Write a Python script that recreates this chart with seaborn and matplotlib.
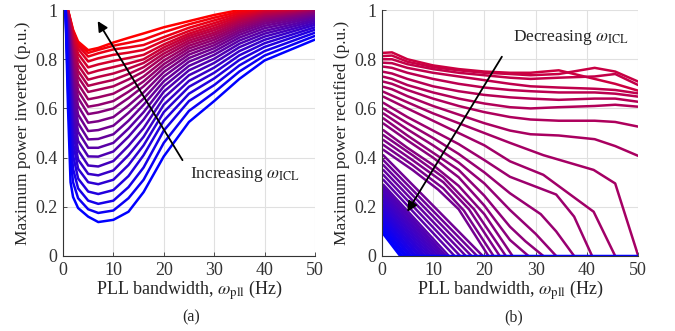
import numpy as np
import pandas as pd
import seaborn as sns
import matplotlib.pyplot as plt
from matplotlib.colors import to_hex

# ---- (a) maximum power inverted: one list per x position, curves bottom(blue) -> top(red)
inv_x = [0.5, 1, 1.5, 2, 3, 5, 7, 10, 13, 16, 20, 25, 30, 35, 40, 50]
p05 = [1.0, 1.0, 1.0, 1.0, 1.0, 1.0, 1.0, 1.0, 1.0, 1.0, 1.0, 1.0, 1.0, 1.0, 1.0, 1.0, 1.0, 1.0, 1.0, 1.0, 1.0, 1.0, 1.0, 1.0]
p1 = [0.60, 0.68, 0.74, 0.79, 0.83, 0.86, 0.885, 0.905, 0.92, 0.935, 0.947, 0.957, 0.965, 0.972, 0.978, 0.983, 0.987, 0.99, 0.993, 0.995, 0.997, 0.998, 0.999, 1.0]
p15 = [0.30, 0.40, 0.48, 0.55, 0.61, 0.66, 0.70, 0.74, 0.77, 0.80, 0.825, 0.847, 0.865, 0.882, 0.896, 0.908, 0.918, 0.927, 0.935, 0.942, 0.948, 0.953, 0.957, 0.96]
p2 = [0.24, 0.30, 0.355, 0.41, 0.46, 0.505, 0.55, 0.59, 0.63, 0.665, 0.70, 0.73, 0.758, 0.785, 0.808, 0.83, 0.848, 0.865, 0.88, 0.893, 0.903, 0.91, 0.915, 0.92]
p3 = [0.195, 0.235, 0.275, 0.315, 0.355, 0.392, 0.43, 0.468, 0.505, 0.54, 0.575, 0.61, 0.643, 0.672, 0.70, 0.728, 0.752, 0.776, 0.80, 0.822, 0.842, 0.855, 0.864, 0.872]
p5 = [0.16, 0.19, 0.225, 0.262, 0.30, 0.334, 0.368, 0.405, 0.44, 0.474, 0.508, 0.542, 0.577, 0.607, 0.637, 0.667, 0.692, 0.717, 0.742, 0.767, 0.791, 0.811, 0.826, 0.837]
p7 = [0.138, 0.175, 0.212, 0.252, 0.292, 0.328, 0.364, 0.404, 0.44, 0.476, 0.512, 0.548, 0.584, 0.614, 0.645, 0.676, 0.702, 0.728, 0.754, 0.779, 0.804, 0.824, 0.838, 0.846]
p10 = [0.147, 0.185, 0.225, 0.268, 0.31, 0.348, 0.386, 0.425, 0.46, 0.495, 0.53, 0.565, 0.60, 0.63, 0.66, 0.69, 0.716, 0.742, 0.768, 0.793, 0.818, 0.84, 0.855, 0.868]
p13 = [0.18, 0.235, 0.28, 0.325, 0.37, 0.41, 0.448, 0.485, 0.518, 0.55, 0.582, 0.612, 0.642, 0.668, 0.693, 0.718, 0.74, 0.762, 0.783, 0.805, 0.827, 0.848, 0.867, 0.887]
p16 = [0.26, 0.31, 0.36, 0.41, 0.45, 0.485, 0.52, 0.555, 0.585, 0.615, 0.64, 0.665, 0.69, 0.71, 0.73, 0.75, 0.768, 0.785, 0.80, 0.818, 0.838, 0.858, 0.88, 0.905]
p20 = [0.405, 0.46, 0.51, 0.55, 0.585, 0.615, 0.643, 0.668, 0.69, 0.71, 0.73, 0.748, 0.765, 0.78, 0.795, 0.81, 0.823, 0.836, 0.848, 0.86, 0.875, 0.89, 0.91, 0.93]
p25 = [0.545, 0.59, 0.63, 0.66, 0.688, 0.712, 0.735, 0.755, 0.773, 0.79, 0.805, 0.819, 0.832, 0.844, 0.855, 0.866, 0.876, 0.886, 0.895, 0.904, 0.915, 0.928, 0.942, 0.955]
p30 = [0.63, 0.665, 0.695, 0.722, 0.745, 0.766, 0.785, 0.802, 0.818, 0.832, 0.845, 0.857, 0.868, 0.879, 0.889, 0.899, 0.908, 0.918, 0.927, 0.937, 0.947, 0.958, 0.969, 0.98]
p35 = [0.72, 0.75, 0.775, 0.797, 0.816, 0.833, 0.849, 0.863, 0.876, 0.888, 0.899, 0.909, 0.918, 0.927, 0.935, 0.943, 0.951, 0.958, 0.965, 0.972, 0.979, 0.986, 0.993, 1.0]
p40 = [0.795, 0.815, 0.833, 0.85, 0.865, 0.879, 0.892, 0.904, 0.915, 0.926, 0.936, 0.945, 0.953, 0.96, 0.967, 0.973, 0.979, 0.984, 0.989, 0.993, 0.996, 0.998, 1.0, 1.0]
p50 = [0.88, 0.895, 0.908, 0.92, 0.93, 0.94, 0.948, 0.956, 0.963, 0.97, 0.976, 0.982, 0.987, 0.991, 0.994, 0.996, 0.998, 0.999, 1.0, 1.0, 1.0, 1.0, 1.0, 1.0]
inv_cols = [p05, p1, p15, p2, p3, p5, p7, p10, p13, p16, p20, p25, p30, p35, p40, p50]

# ---- (b) maximum power rectified, curves top(red) -> bottom(blue)
top_x = [0.3, 2, 5, 10, 15, 20, 25, 29, 34.5, 41.5, 45.5, 50]
top_y = [
    [0.826, 0.828, 0.80, 0.775, 0.76, 0.75, 0.745, 0.745, 0.755, 0.72, 0.70, 0.672],
    [0.813, 0.815, 0.79, 0.768, 0.755, 0.745, 0.74, 0.735, 0.74, 0.765, 0.75, 0.709],
    [0.80, 0.80, 0.78, 0.76, 0.745, 0.735, 0.725, 0.72, 0.725, 0.73, 0.74, 0.695],
    [0.786, 0.784, 0.765, 0.745, 0.73, 0.715, 0.70, 0.69, 0.685, 0.68, 0.675, 0.661],
    [0.77, 0.765, 0.745, 0.72, 0.70, 0.685, 0.675, 0.67, 0.665, 0.665, 0.66, 0.648],
    [0.749, 0.742, 0.72, 0.69, 0.67, 0.655, 0.645, 0.64, 0.635, 0.64, 0.64, 0.627],
    [0.729, 0.72, 0.695, 0.665, 0.64, 0.62, 0.605, 0.60, 0.605, 0.61, 0.615, 0.607],
    [0.709, 0.70, 0.675, 0.64, 0.61, 0.585, 0.565, 0.555, 0.55, 0.55, 0.545, 0.526],
    [0.688, 0.678, 0.65, 0.61, 0.575, 0.54, 0.51, 0.495, 0.49, 0.475, 0.447, 0.407],
]
mid_x = [
    [0.3, 5, 10, 15, 20, 25, 31.5, 41.3, 45.5, 50],
    [0.3, 5, 10, 15, 20, 25, 31.5, 41.3, 45.5],
    [0.3, 5, 10, 15, 20, 25, 34, 37.5, 41],
    [0.3, 5, 10, 15, 20, 25, 31, 34, 37.5],
    [0.3, 5, 10, 15, 20, 25, 30, 34],
    [0.3, 5, 10, 15, 20, 25, 28, 31.5],
    [0.3, 5, 10, 15, 20, 25, 28.6],
    [0.3, 5, 10, 15, 20, 25.5],
    [0.3, 6, 12, 18, 24.2],
    [0.3, 6, 12, 17, 23],
    [0.3, 6, 12, 16, 21.8],
    [0.3, 6, 11, 15, 20.8],
]
mid_y = [
    [0.668, 0.625, 0.58, 0.54, 0.50, 0.46, 0.41, 0.35, 0.295, 0.0],
    [0.648, 0.60, 0.55, 0.50, 0.45, 0.385, 0.33, 0.18, 0.0],
    [0.623, 0.565, 0.51, 0.455, 0.39, 0.322, 0.25, 0.16, 0.0],
    [0.60, 0.54, 0.48, 0.415, 0.34, 0.255, 0.17, 0.10, 0.0],
    [0.58, 0.515, 0.45, 0.38, 0.295, 0.187, 0.09, 0.0],
    [0.56, 0.49, 0.42, 0.35, 0.245, 0.119, 0.06, 0.0],
    [0.539, 0.47, 0.40, 0.32, 0.205, 0.065, 0.0],
    [0.512, 0.44, 0.37, 0.285, 0.17, 0.0],
    [0.492, 0.41, 0.32, 0.19, 0.0],
    [0.472, 0.39, 0.30, 0.19, 0.0],
    [0.452, 0.37, 0.275, 0.185, 0.0],
    [0.432, 0.35, 0.27, 0.19, 0.0],
]
# straight lines: value at x=0.3 and where they reach zero
low_start = [0.41, 0.39, 0.37, 0.35, 0.33, 0.31, 0.29,
             0.28, 0.27, 0.26, 0.25, 0.24, 0.23, 0.22, 0.21, 0.20, 0.19,
             0.18, 0.17, 0.16, 0.15, 0.14, 0.13, 0.12, 0.11, 0.10, 0.09]
low_zero = [19.7, 18.6, 17.5, 16.4, 15.3, 14.2, 13.1,
            12.5, 12.0, 11.5, 11.0, 10.5, 10.0, 9.5, 9.0, 8.5, 8.1,
            7.6, 7.2, 6.7, 6.3, 5.8, 5.4, 4.9, 4.5, 4.0, 3.6]

# ---- long tables
rows = []
for j, xv in enumerate(inv_x):
    for i, yv in enumerate(inv_cols[j]):
        rows.append((i, xv, yv))
df_inv = pd.DataFrame(rows, columns=['curve', 'x', 'y'])

rows = []
k = 0
for ys in top_y:
    rows += [(k, xv, yv) for xv, yv in zip(top_x, ys)]
    k += 1
for xs, ys in zip(mid_x, mid_y):
    rows += [(k, xv, yv) for xv, yv in zip(xs, ys)]
    k += 1
for s, z in zip(low_start, low_zero):
    rows += [(k, 0.3, s), (k, z, 0.0)]
    k += 1
rows.append((k - 1, 50, 0.0))
df_rec = pd.DataFrame(rows, columns=['curve', 'x', 'y'])

n_inv = len(p1)
n_rec = k
inv_pal = {i: to_hex((i / (n_inv - 1), 0, 1 - i / (n_inv - 1))) for i in range(n_inv)}
c_top = np.array([0.80, 0.0, 0.25])
c_bot = np.array([0.0, 0.0, 1.0])
rec_pal = {i: to_hex(c_top + (c_bot - c_top) * i / (n_rec - 1)) for i in range(n_rec)}

sns.set_style('whitegrid')
plt.rcParams['font.family'] = ['Liberation Serif', 'DejaVu Serif']
plt.rcParams['mathtext.fontset'] = 'stix'

fig = plt.figure(figsize=(6.75, 3.31), dpi=100)
ax1 = fig.add_axes([0.0933, 0.2266, 0.3733, 0.743])
ax2 = fig.add_axes([0.5655, 0.2266, 0.3801, 0.743])

# red drawn first, blue last
sns.lineplot(data=df_inv, x='x', y='y', hue='curve', palette=inv_pal,
             hue_order=list(range(n_inv))[::-1], estimator=None, sort=False,
             legend=False, lw=1.8, ax=ax1)
sns.lineplot(data=df_rec, x='x', y='y', hue='curve', palette=rec_pal,
             hue_order=list(range(n_rec)), estimator=None, sort=False,
             legend=False, lw=1.8, ax=ax2)

ylabels = ['Maximum power inverted (p.u.)', 'Maximum power rectified (p.u.)']
for ax, yl in zip([ax1, ax2], ylabels):
    ax.set_xlim(0, 50)
    ax.set_ylim(0, 1)
    ax.set_xticks([0, 10, 20, 30, 40, 50])
    ax.set_yticks([0, 0.2, 0.4, 0.6, 0.8, 1])
    ax.set_yticklabels(['0', '0.2', '0.4', '0.6', '0.8', '1'])
    ax.grid(True, color='0.88', lw=0.8)
    for sp in ['top', 'right']:
        ax.spines[sp].set_visible(False)
    for sp in ['left', 'bottom']:
        ax.spines[sp].set_color('0.2')
        ax.spines[sp].set_linewidth(0.8)
    ax.tick_params(direction='in', length=3, width=0.6, colors='0.2',
                   labelsize=13, pad=4, left=True, bottom=True)
    ax.set_xlabel(r'PLL bandwidth, $\omega_{\rm pll}$ (Hz)', fontsize=13, color='0.15', labelpad=0)
    ax.set_ylabel(yl, fontsize=12.5, color='0.15', labelpad=3)

ax1.annotate('', xy=(6.6, 0.965), xytext=(24, 0.38),
             arrowprops=dict(arrowstyle='-|>', color='k', lw=1.3, mutation_scale=15))
ax1.text(25.3, 0.33, r'Increasing $\omega_{\rm ICL}$', fontsize=12.5, va='center', ha='left')
ax2.annotate('', xy=(4.7, 0.17), xytext=(23.7, 0.82),
             arrowprops=dict(arrowstyle='-|>', color='k', lw=1.3, mutation_scale=15))
ax2.text(25.5, 0.89, r'Decreasing $\omega_{\rm ICL}$', fontsize=12.5, va='center', ha='left')

fig.text(0.283, 0.04, '(a)', fontsize=11.5, ha='center', va='center')
fig.text(0.761, 0.04, '(b)', fontsize=11.5, ha='center', va='center')

fig.savefig('out.png', dpi=100)
